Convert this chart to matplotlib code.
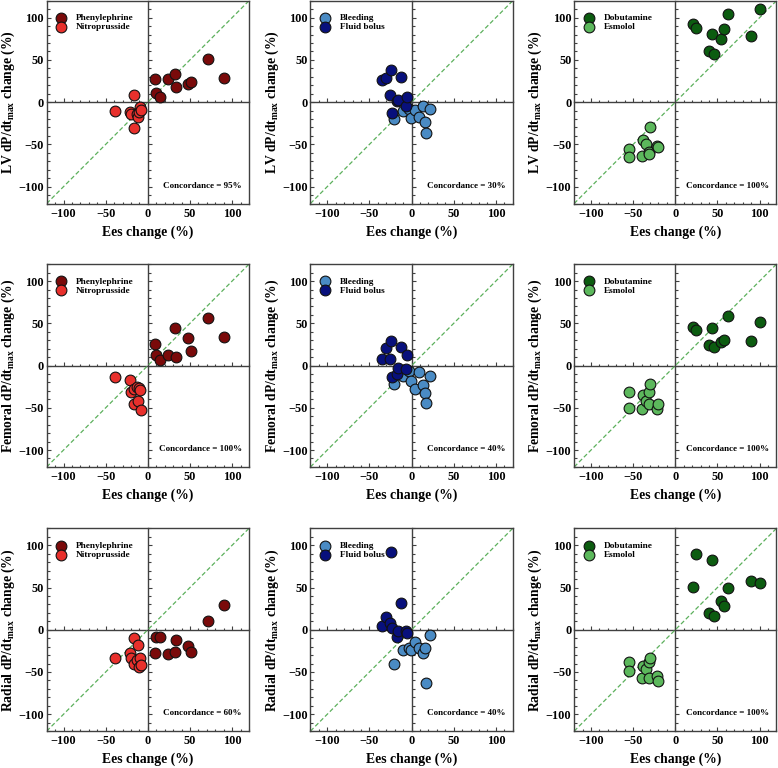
import numpy as np
import matplotlib
matplotlib.use('Agg')
import matplotlib.pyplot as plt
from matplotlib.ticker import MultipleLocator

plt.rcParams['font.family'] = ['Liberation Serif', 'DejaVu Serif']
plt.rcParams['font.weight'] = 'bold'
plt.rcParams['mathtext.fontset'] = 'custom'
plt.rcParams['mathtext.rm'] = 'Liberation Serif:bold'
plt.rcParams['mathtext.it'] = 'Liberation Serif:bold:italic'
plt.rcParams['mathtext.bf'] = 'Liberation Serif:bold'

# Ees change (%) for each intervention group
ees_phe = [9, 10, 15, 24, 32, 34, 48, 51, 71, 90]
ees_nit = [-39, -21, -20, -16.5, -16, -13, -11.5, -10.5, -9, -7.5]
ees_ble = [-21, -10, -3.5, -1, 3.5, 9, 14, 15.5, 17, 22]
ees_flu = [-34.5, -30.5, -26, -24.5, -23.5, -17, -16, -13, -6.5, -5.5]
ees_dob = [21.5, 25, 40, 44, 46, 54, 58, 62.5, 89.5, 100]
ees_esm = [-55.5, -55.5, -40, -38, -34.5, -31, -31, -30.5, -22, -20]

# LV dP/dtmax change (%)
lv_phe = [27.5, 10.5, 6.5, 27, 33.5, 18.5, 21.5, 24, 51, 28.5]
lv_nit = [-10.5, -12, -14, 8.5, -31, -14, -17, -12, -6, -9.5]
lv_ble = [-20, -10, -8.5, -18.5, -9.5, -17, -4, -24, -36, -8]
lv_flu = [26, 29, 8.5, 38.5, -13, 1, 2.5, 30, -5, 5.5]
lv_dob = [92, 87.5, 61, 81, 57.5, 75, 86, 104.5, 78, 110.5]
lv_esm = [-55.5, -64.5, -63.5, -44.5, -50, -59, -61.5, -29, -51.5, -53]

# Femoral dP/dtmax change (%)
fem_phe = [25.5, 12, 6.5, 12, 45, 10.5, 33, 17.5, 56, 34]
fem_nit = [-14, -17, -31.5, -46, -28, -25.5, -42, -27, -29.5, -53]
fem_ble = [-21.5, -12, -7, -18, -27.5, -8, -23.5, -32.5, -44, -12.5]
fem_flu = [8, 20.5, 8, 29.5, -13, -10.5, -3, 22.5, -4, 12.5]
fem_dob = [45.5, 42, 24.5, 44, 21.5, 27.5, 30, 58.5, 28.5, 52]
fem_esm = [-31, -50, -52, -34.5, -42.5, -31.5, -45, -21.5, -51.5, -46]

# Radial dP/dtmax change (%)
rad_phe = [-28, -9, -8, -29, -26, -12, -19.5, -26.5, 10, 29]
rad_nit = [-34, -27, -33, -10, -40.5, -36, -18, -44, -33, -42]
rad_ble = [-40.5, -23.5, -22, -24, -15, -21.5, -27.5, -22, -63.5, -6.5]
rad_flu = [5, 15.5, 8, 91.5, 2.5, -8, -1, 31.5, -2, -3.5]
rad_dob = [50.5, 89.5, 20, 82, 16, 34.5, 28, 50, 57.5, 55]
rad_esm = [-38.5, -48.5, -57.5, -42.5, -46, -38.5, -57.5, -33, -54.5, -61]

site_names = ['LV', 'Femoral', 'Radial']
concordance = [[95, 30, 100], [100, 40, 100], [60, 40, 100]]

# column groups: labels, Ees values and colours; per row the dP/dtmax data
col_labels = [('Phenylephrine', 'Nitroprusside'), ('Bleeding', 'Fluid bolus'), ('Dobutamine', 'Esmolol')]
col_ees = [(ees_phe, ees_nit), (ees_ble, ees_flu), (ees_dob, ees_esm)]
col_colors = [('#7a0a0a', '#e8302c'), ('#4a8bc4', '#08107c'), ('#0c5c10', '#5cb85c')]
row_data = [
    [(lv_phe, lv_nit), (lv_ble, lv_flu), (lv_dob, lv_esm)],
    [(fem_phe, fem_nit), (fem_ble, fem_flu), (fem_dob, fem_esm)],
    [(rad_phe, rad_nit), (rad_ble, rad_flu), (rad_dob, rad_esm)],
]

fig = plt.figure(figsize=(7.78, 7.68), dpi=100)
lefts = [0.060, 0.399, 0.738]
bottoms = [0.735, 0.392, 0.048]
w, h = 0.260, 0.264
frame_col = '#404040'

for r in range(3):
    for c in range(3):
        rect = [lefts[c], bottoms[r], w, h]
        # background axes carrying the zero lines with their ticks
        ax0 = fig.add_axes(rect)
        ax = fig.add_axes(rect, sharex=ax0, sharey=ax0)
        ax0.set_zorder(0)
        ax.set_zorder(1)
        ax.patch.set_visible(False)
        for s in ['top', 'right']:
            ax0.spines[s].set_visible(False)
        ax0.spines['left'].set_position(('data', 0))
        ax0.spines['bottom'].set_position(('data', 0))
        for s in ['left', 'bottom']:
            ax0.spines[s].set_color(frame_col)
            ax0.spines[s].set_linewidth(1.0)
        ax0.tick_params(which='both', direction='in', labelleft=False, labelbottom=False,
                        color=frame_col, width=0.8)
        ax0.tick_params(which='major', length=3.2)
        ax0.tick_params(which='minor', length=1.8)

        ax.set_xlim(-120, 120)
        ax.set_ylim(-120, 120)
        ax.xaxis.set_major_locator(MultipleLocator(50))
        ax.yaxis.set_major_locator(MultipleLocator(50))
        ax.xaxis.set_minor_locator(MultipleLocator(10))
        ax.yaxis.set_minor_locator(MultipleLocator(10))
        for s in ax.spines.values():
            s.set_color(frame_col)
            s.set_linewidth(1.0)
        ax.tick_params(which='both', direction='in', color=frame_col, width=0.8,
                       labelsize=8.8, top=False, right=False)
        ax.tick_params(axis='x', which='major', length=3.2, pad=3)
        ax.tick_params(axis='y', which='major', length=3.2, pad=2)
        ax.tick_params(which='minor', length=1.8)
        for lab in ax.get_xticklabels() + ax.get_yticklabels():
            lab.set_fontweight('bold')

        ax.plot([-120, 120], [-120, 120], color='#5cb05c', lw=0.9,
                ls=(0, (3.5, 2)), zorder=1)

        ys = row_data[r][c]
        for k in range(2):
            ax.scatter(col_ees[c][k], ys[k], s=60, color=col_colors[c][k],
                       edgecolor='#111111', linewidth=0.8, zorder=3,
                       label=col_labels[c][k])

        ax.legend(loc='upper left', bbox_to_anchor=(0.044, 0.935), frameon=False,
                  handletextpad=1.0, labelspacing=0.05, borderaxespad=0.0,
                  borderpad=0.0, scatterpoints=1, handlelength=1.2,
                  prop={'weight': 'bold', 'size': 6.7})
        ax.text(0.965, 0.087, f'Concordance = {concordance[r][c]}%',
                transform=ax.transAxes, ha='right', va='center',
                fontsize=6.5, fontweight='bold')
        ax.set_xlabel('Ees change (%)', fontsize=9.8, fontweight='bold', labelpad=4)
        ax.set_ylabel(site_names[r] + r' dP/dt$_{\mathrm{max}}$ change (%)',
                      fontsize=9.8, fontweight='bold', labelpad=1)

fig.savefig('out.png', dpi=100)
